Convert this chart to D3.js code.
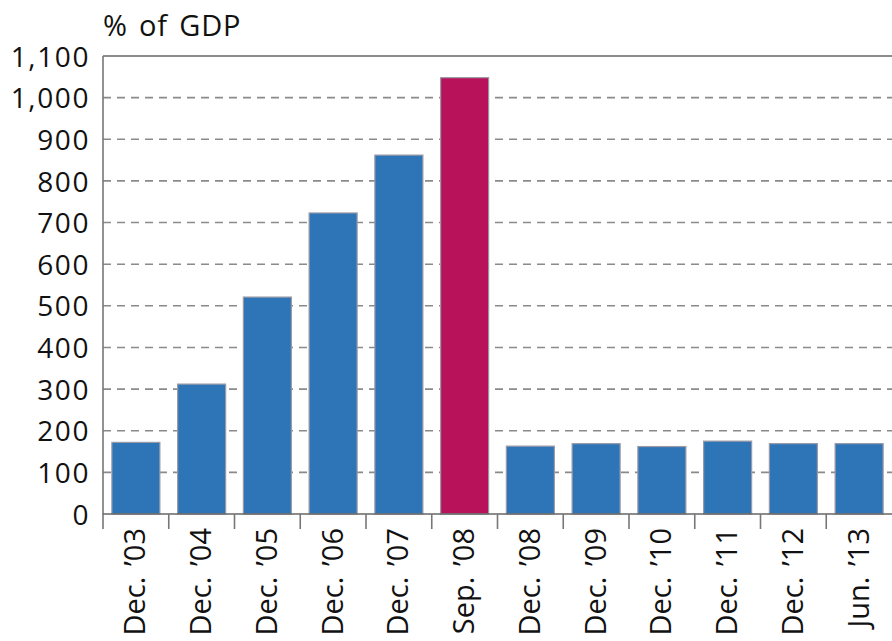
<!DOCTYPE html>
<html>
<head>
<meta charset="utf-8">
<script src="https://cdn.jsdelivr.net/npm/d3@7"></script>
<style>
  html, body { margin: 0; padding: 0; background: #fff; }
  svg text { font-family: "Open Sans", "Noto Sans", sans-serif; fill: #111; }
</style>
</head>
<body>
<svg id="chart" width="892" height="641"></svg>
<script>
// Categories and values (% of GDP)
const categories = ["Dec. \u201903", "Dec. \u201904", "Dec. \u201905", "Dec. \u201906", "Dec. \u201907",
                    "Sep. \u201908", "Dec. \u201908", "Dec. \u201909", "Dec. \u201910", "Dec. \u201911",
                    "Dec. \u201912", "Jun. \u201913"];
const values = [172, 312, 521, 723, 862, 1048, 163, 169, 162, 175, 169, 169];
const highlighted = ["Sep. \u201908"];
const yTicks = [0, 100, 200, 300, 400, 500, 600, 700, 800, 900, 1000, 1100];
const yTitle = "% of GDP";

const svg = d3.select("#chart");
const plotLeft = 103, plotRight = 892, plotTop = 56, plotBottom = 514;

const x = d3.scaleBand().domain(categories).range([plotLeft, plotRight])
  .paddingInner(0.27).paddingOuter(0.135);
const y = d3.scaleLinear().domain([0, 1100]).range([plotBottom, plotTop]);

// Dashed gridlines
svg.append("g").selectAll("line")
  .data(yTicks.filter(d => d > 0 && d < 1100))
  .join("line")
  .attr("x1", plotLeft).attr("x2", plotRight)
  .attr("y1", d => y(d)).attr("y2", d => y(d))
  .attr("stroke", "#8a8a8a").attr("stroke-width", 1.6)
  .attr("stroke-dasharray", "8,6");

// Top border
svg.append("line")
  .attr("x1", plotLeft).attr("x2", plotRight)
  .attr("y1", y(1100)).attr("y2", y(1100))
  .attr("stroke", "#666").attr("stroke-width", 1.6);

// Bars
svg.append("g").selectAll("rect")
  .data(categories.map((c, i) => ({ c, v: values[i] })))
  .join("rect")
  .attr("x", d => x(d.c))
  .attr("width", x.bandwidth())
  .attr("y", d => y(d.v))
  .attr("height", d => y(0) - y(d.v))
  .attr("fill", d => highlighted.includes(d.c) ? "#B8125A" : "#2E75B8")
  .attr("stroke", "#9a9aa6").attr("stroke-width", 1.2);

// Y axis
const yAxis = svg.append("g").attr("transform", `translate(${plotLeft},0)`)
  .call(d3.axisLeft(y).tickValues(yTicks).tickSize(0).tickPadding(13)
    .tickFormat(d3.format(",")));
yAxis.select(".domain").remove();
yAxis.selectAll("text")
  .attr("font-size", 28)
  .attr("letter-spacing", "1.6px")
  .attr("dy", "0.36em");
svg.append("line")
  .attr("x1", plotLeft).attr("x2", plotLeft)
  .attr("y1", plotTop).attr("y2", plotBottom + 15)
  .attr("stroke", "#777").attr("stroke-width", 1.6);

// X axis baseline and separators between categories
svg.append("line")
  .attr("x1", plotLeft).attr("x2", plotRight)
  .attr("y1", plotBottom).attr("y2", plotBottom)
  .attr("stroke", "#666").attr("stroke-width", 1.6);
svg.append("g").selectAll("line")
  .data(categories.slice(1))
  .join("line")
  .attr("x1", d => x(d) - x.step() * x.paddingInner() / 2)
  .attr("x2", d => x(d) - x.step() * x.paddingInner() / 2)
  .attr("y1", plotBottom).attr("y2", plotBottom + 15)
  .attr("stroke", "#777").attr("stroke-width", 1.6);

// Rotated category labels
svg.append("g").selectAll("text")
  .data(categories)
  .join("text")
  .attr("transform", d => `translate(${x(d) + x.bandwidth() / 2 + 9.5},${plotBottom + 14}) rotate(-90)`)
  .attr("text-anchor", "end")
  .attr("font-size", 29)
  .attr("word-spacing", "3px")
  .text(d => d);

// Unit title
svg.append("text")
  .attr("x", plotLeft).attr("y", 36)
  .attr("font-size", 29)
  .attr("letter-spacing", "0.8px")
  .attr("word-spacing", "3px")
  .text(yTitle);
</script>
</body>
</html>
